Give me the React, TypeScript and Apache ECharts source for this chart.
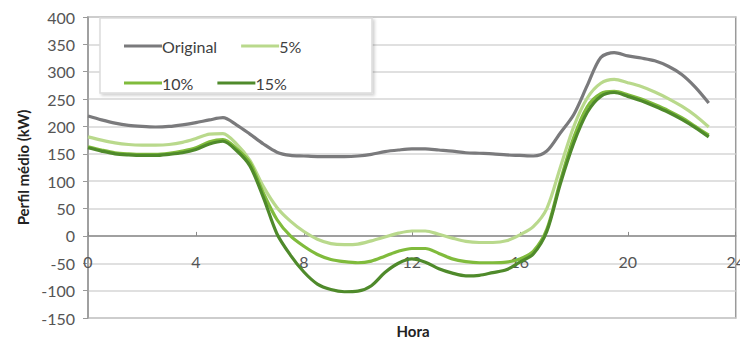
import React, { useEffect, useRef } from "react";
import * as echarts from "echarts";

// Half-hourly time of day, 0h .. 23h
const hours = [
  0, 0.5, 1, 1.5, 2, 2.5, 3, 3.5, 4, 4.5, 5, 5.5, 6, 6.5, 7, 7.5, 8, 8.5, 9, 9.5, 10, 10.5, 11, 11.5,
  12, 12.5, 13, 13.5, 14, 14.5, 15, 15.5, 16, 16.5, 17, 17.5, 18, 18.5, 19, 19.5, 20, 20.5, 21, 21.5,
  22, 22.5, 23,
];

// Average load profile (kW) for each scenario
const original = [
  219, 212, 206, 202, 200, 199, 200, 203, 207, 212, 216, 203, 186, 168, 153, 147, 146, 145, 145, 145, 146, 149, 154, 157,
  159, 159, 157, 155, 152, 151, 150, 148, 147, 146, 155, 188, 222, 275, 326, 335, 329, 325, 320, 310,
  295, 272, 243,
];
const pct5 = [
  181, 175, 170, 167, 166, 166, 167, 171, 178, 186, 187, 168, 138, 90, 52, 27, 8, -6, -14, -16, -15, -9, -2, 5,
  9, 9, 3, -4, -10, -12, -12, -9, 2, 17, 50, 125, 200, 252, 279, 286, 280, 273, 263, 251,
  237, 220, 199,
];
const pct10 = [
  163, 157, 152, 150, 149, 149, 151, 155, 161, 172, 176, 160, 134, 78, 30, 0, -19, -34, -43, -47, -49, -46, -37, -28,
  -23, -23, -32, -42, -47, -49, -49, -48, -42, -28, 12, 100, 180, 236, 260, 264, 258, 250, 240, 229,
  216, 200, 184,
];
const pct15 = [
  161, 155, 150, 148, 147, 147, 149, 152, 158, 168, 173, 156, 128, 70, 4, -35, -66, -88, -98, -102, -101, -91, -67, -50,
  -42, -48, -60, -68, -73, -72, -67, -62, -48, -33, 8, 95, 170, 226, 255, 262, 255, 247, 237, 226,
  213, 198, 181,
];

const seriesNames = ["Original", "5%", "10%", "15%"];
const seriesColors = ["#7a7a7c", "#b9d98c", "#80bb3c", "#4f8a2b"];

const FONT = "Lato";
const W = 748;
const H = 345;
const GRID = { left: 88, right: 9, top: 17, bottom: 27 };
const Y_MIN = -150;
const Y_MAX = 400;

export default function App() {
  const ref = useRef<HTMLDivElement>(null);

  useEffect(() => {
    if (!ref.current) return;
    const chart = echarts.init(ref.current, null, { renderer: "svg" });
    const values = [original, pct5, pct10, pct15];

    // lift the bottom x axis up to the y = 0 line
    const plotH = H - GRID.top - GRID.bottom;
    const zeroOffset = -plotH * (0 - Y_MIN) / (Y_MAX - Y_MIN);

    const legendCommon = {
      left: 119,
      orient: "horizontal" as const,
      icon: "rect",
      itemWidth: 38,
      itemHeight: 3,
      itemGap: 24,
      z: 6,
      textStyle: { fontFamily: FONT, fontSize: 16, color: "#404040", width: 76, padding: [0, 0, 0, -5] },
    };

    chart.setOption({
      animation: false,
      grid: {
        ...GRID,
        show: true,
        borderColor: "#9a9a9a",
        borderWidth: 1.5,
      },
      xAxis: {
        type: "value",
        min: 0,
        max: 24,
        interval: 4,
        position: "bottom",
        offset: zeroOffset,
        axisLine: { onZero: false, lineStyle: { color: "#8a8a8a", width: 1.5 } },
        axisTick: { show: true, inside: true, length: 4, lineStyle: { color: "#8a8a8a" } },
        axisLabel: { margin: 18, fontFamily: FONT, fontSize: 16, color: "#555" },
        splitLine: { show: false },
      },
      yAxis: {
        type: "value",
        min: Y_MIN,
        max: Y_MAX,
        interval: 50,
        name: "Perfil médio (kW)",
        nameLocation: "middle",
        nameGap: 58,
        nameTextStyle: { fontFamily: FONT, fontSize: 15, fontWeight: "bold", color: "#222" },
        axisLine: { show: true, onZero: false, lineStyle: { color: "#9a9a9a", width: 1.5 } },
        axisTick: { show: true, length: 5, lineStyle: { color: "#9a9a9a" } },
        axisLabel: { margin: 13, fontFamily: FONT, fontSize: 16, color: "#555" },
        splitLine: { show: true, lineStyle: { color: "#d6d6d6", width: 1.5 } },
      },
      legend: [
        { ...legendCommon, top: 33, data: seriesNames.slice(0, 2) },
        { ...legendCommon, top: 70, data: seriesNames.slice(2, 4) },
      ],
      graphic: [
        {
          type: "rect",
          z: 5,
          shape: { x: 100, y: 18, width: 272, height: 75 },
          style: {
            fill: "#ffffff",
            stroke: "#dcdcdc",
            lineWidth: 1.5,
            shadowColor: "rgba(0,0,0,0.18)",
            shadowBlur: 3,
            shadowOffsetX: 2,
            shadowOffsetY: 2,
          },
        },
        {
          type: "text",
          x: 413,
          y: 331,
          style: {
            text: "Hora",
            fontFamily: FONT,
            fontSize: 15,
            fontWeight: "bold",
            fill: "#222",
            align: "center",
            verticalAlign: "middle",
          },
        },
      ],
      series: seriesNames.map((name, i) => ({
        name,
        type: "line",
        smooth: 0.3,
        symbol: "none",
        z: 2 + i,
        data: hours.map((h, k) => [h, values[i][k]]),
        lineStyle: { color: seriesColors[i], width: 3.2 },
        itemStyle: { color: seriesColors[i] },
      })),
    });

    return () => chart.dispose();
  }, []);

  return <div ref={ref} style={{ width: W, height: H, margin: -8 }} />;
}
